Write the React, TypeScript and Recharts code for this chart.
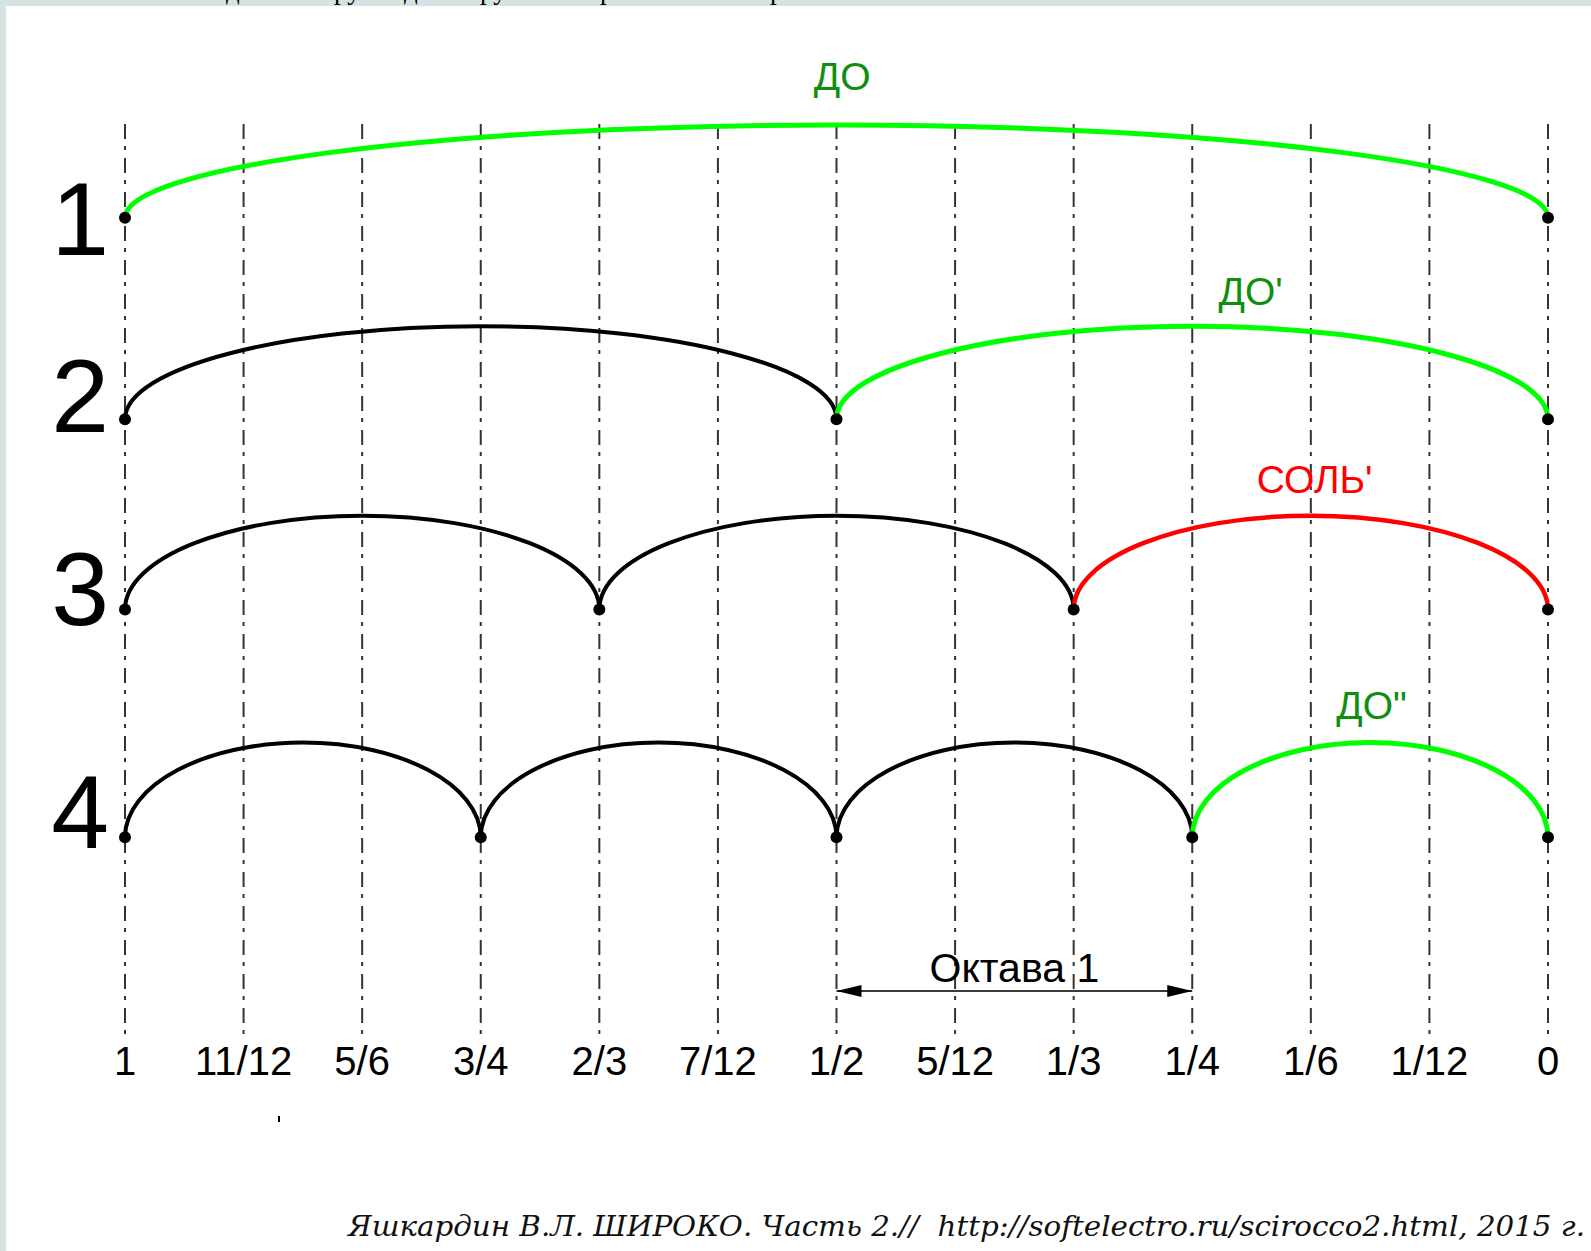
import React from 'react';
import { ComposedChart, Line, Scatter, XAxis, YAxis, CartesianGrid, ReferenceDot, ReferenceLine } from 'recharts';

// string positions (fraction of string length), left = 1, right = 0
const X_TICKS = [1, 11 / 12, 5 / 6, 3 / 4, 2 / 3, 7 / 12, 1 / 2, 5 / 12, 1 / 3, 1 / 4, 1 / 6, 1 / 12, 0];
const X_TICK_LABELS = ['1', '11/12', '5/6', '3/4', '2/3', '7/12', '1/2', '5/12', '1/3', '1/4', '1/6', '1/12', '0'];

// harmonic rows
const ROW_LABELS = ['1', '2', '3', '4'];
const ROW_LABEL_POS = [89.7, 70.2, 49.1, 24.6];
const ROW_BASE = [89.7, 67.6, 46.7, 21.7];
const ROW_PEAK = [99.9, 77.8, 57.0, 32.1];
const ROW_NODES = [
  [1, 0],
  [1, 1 / 2, 0],
  [1, 2 / 3, 1 / 3, 0],
  [1, 3 / 4, 1 / 2, 1 / 4, 0],
];
const ROW_PEAK_X = [
  [1 / 2],
  [3 / 4, 1 / 4],
  [5 / 6, 1 / 2, 1 / 6],
  [7 / 8, 5 / 8, 3 / 8, 1 / 8],
];
const ROW_COLORS = [
  ['#00ff00'],
  ['#000000', '#00ff00'],
  ['#000000', '#000000', '#ff0000'],
  ['#000000', '#000000', '#000000', '#00ff00'],
];

// note names above the last loop
const NOTE_LABELS = ['ДО', "ДО'", "СОЛЬ'", 'ДО"'];
const NOTE_X = [0.496, 0.209, 0.164, 0.124];
const NOTE_Y = [105.3, 81.7, 61.0, 36.2];
const NOTE_COLORS = ['#0f8f0f', '#0f8f0f', '#ff0000', '#0f8f0f'];

// octave span
const OCTAVE_FROM = 1 / 2;
const OCTAVE_TO = 1 / 4;
const OCTAVE_Y = 4.83;
const OCTAVE_LABEL = 'Октава 1';

const CAPTION = 'Яшкардин В.Л. ШИРОКО. Часть 2.//  http://softelectro.ru/scirocco2.html, 2015 г.';
// cut-off line of the page text above the picture (only descenders visible)
const TOP_FRAGMENTS = ['д', 'ру', 'д', 'ру', 'р', 'р'];
const TOP_FRAGMENT_X = [226, 334, 404, 480, 600, 770];

const SANS = '"Liberation Sans", Arial, sans-serif';

// quarter-ellipse bezier segments: vertical tangent at the nodes, flat at the loop top
const K = 0.5523;
const loopCurve = (context: any) => {
  let pts: number[][] = [];
  return {
    areaStart() {},
    areaEnd() {},
    lineStart() { pts = []; },
    point(x: number, y: number) { pts.push([x, y]); },
    lineEnd() {
      if (!pts.length) return;
      context.moveTo(pts[0][0], pts[0][1]);
      for (let i = 1; i < pts.length; i++) {
        const [x0, y0] = pts[i - 1];
        const [x1, y1] = pts[i];
        if (y1 < y0) context.bezierCurveTo(x0, y0 + K * (y1 - y0), x1 - K * (x1 - x0), y1, x1, y1);
        else context.bezierCurveTo(x0 + K * (x1 - x0), y0, x1, y1 - K * (y1 - y0), x1, y1);
      }
    },
  };
};

const loops = ROW_NODES.flatMap((nodes, r) =>
  nodes.slice(0, -1).map((a, i) => ({
    key: `loop-${r}-${i}`,
    color: ROW_COLORS[r][i],
    data: [
      { x: a, y: ROW_BASE[r] },
      { x: ROW_PEAK_X[r][i], y: ROW_PEAK[r] },
      { x: nodes[i + 1], y: ROW_BASE[r] },
    ],
  }))
);

const nodeData = ROW_NODES.flatMap((nodes, r) => nodes.map((x) => ({ x, y: ROW_BASE[r] })));

const fmtX = (v: number) => {
  const i = X_TICKS.findIndex((t) => Math.abs(t - v) < 1e-9);
  return i >= 0 ? X_TICK_LABELS[i] : '';
};
const fmtY = (v: number) => {
  const i = ROW_LABEL_POS.findIndex((t) => Math.abs(t - v) < 1e-9);
  return i >= 0 ? ROW_LABELS[i] : '';
};

const OctaveArrow = (p: any) => {
  const { x1, y1, x2, y2 } = p;
  const d = Math.sign(x2 - x1) || 1;
  const L = 25, W = 6;
  return (
    <g>
      <line x1={x1} y1={y1} x2={x2} y2={y2} stroke="#3a3a3a" strokeWidth={2} />
      <polygon points={`${x1},${y1} ${x1 + d * L},${y1 - W} ${x1 + d * L},${y1 + W}`} fill="#000" />
      <polygon points={`${x2},${y2} ${x2 - d * L},${y2 - W} ${x2 - d * L},${y2 + W}`} fill="#000" />
    </g>
  );
};

const NodeDot = (p: any) => <circle cx={p.cx} cy={p.cy} r={6} fill="#000" />;

const strokeFor = (c: string) => (c === '#000000' ? 4 : c === '#ff0000' ? 4.5 : 5);

export default function App() {
  return (
    <div style={{ position: 'absolute', left: 0, top: 0, width: 1591, height: 1251, background: '#d5e3e3', overflow: 'hidden' }}>
      <div style={{ position: 'absolute', left: 6, top: 6, right: 0, bottom: 0, background: '#fff' }} />
      <div style={{ position: 'absolute', left: 0, top: 0 }}>
        <ComposedChart width={1591} height={1251} margin={{ top: 124, right: 43, bottom: 156, left: 0 }}>
          <CartesianGrid horizontal={false} stroke="#333" strokeWidth={2} strokeDasharray="15 7 4 8" />
          <XAxis
            type="number" dataKey="x" domain={[0, 1]} reversed ticks={X_TICKS} interval={0}
            tickFormatter={fmtX} axisLine={false} tickLine={false} tickSize={0} tickMargin={12} height={60}
            tick={{ fontSize: 40, fill: '#000', fontFamily: SANS }}
          />
          <YAxis
            type="number" dataKey="y" domain={[0, 100]} ticks={ROW_LABEL_POS} interval={0}
            tickFormatter={fmtY} axisLine={false} tickLine={false} tickSize={0} tickMargin={16} width={125}
            tick={{ fontSize: 104, fill: '#000', fontFamily: SANS }}
          />
          {loops.map((l) => (
            <Line
              key={l.key} data={l.data} dataKey="y" type={loopCurve as any} stroke={l.color}
              strokeWidth={strokeFor(l.color)} dot={false} activeDot={false}
              isAnimationActive={false} legendType="none"
            />
          ))}
          <Scatter data={nodeData} dataKey="y" shape={NodeDot} isAnimationActive={false} legendType="none" />
          {NOTE_LABELS.map((t, i) => (
            <ReferenceDot
              key={t} x={NOTE_X[i]} y={NOTE_Y[i]} r={0} ifOverflow="visible" stroke="none"
              label={{ value: t, position: 'center', fill: NOTE_COLORS[i], fontSize: 39, fontFamily: SANS }}
            />
          ))}
          <ReferenceLine
            segment={[{ x: OCTAVE_FROM, y: OCTAVE_Y }, { x: OCTAVE_TO, y: OCTAVE_Y }]}
            shape={OctaveArrow} ifOverflow="visible"
            label={{ value: OCTAVE_LABEL, position: 'top', offset: 9, fill: '#000', fontSize: 41, fontFamily: SANS }}
          />
        </ComposedChart>
      </div>
      <svg width={1591} height={1251} style={{ position: 'absolute', left: 0, top: 0, pointerEvents: 'none' }}>
        {TOP_FRAGMENTS.map((t, i) => (
          <text key={i} x={TOP_FRAGMENT_X[i]} y={-1} fontFamily='"Liberation Serif", serif' fontSize={27} fill="#000">{t}</text>
        ))}
        <line x1={279} y1={1116} x2={279} y2={1122} stroke="#000" strokeWidth={2} />
        <text
          x={348} y={1236} fontFamily='"DejaVu Serif", serif' fontStyle="italic" fontSize={28}
          fill="#111" textLength={1237} lengthAdjust="spacingAndGlyphs" style={{ whiteSpace: 'pre' }}
        >
          {CAPTION}
        </text>
      </svg>
    </div>
  );
}
